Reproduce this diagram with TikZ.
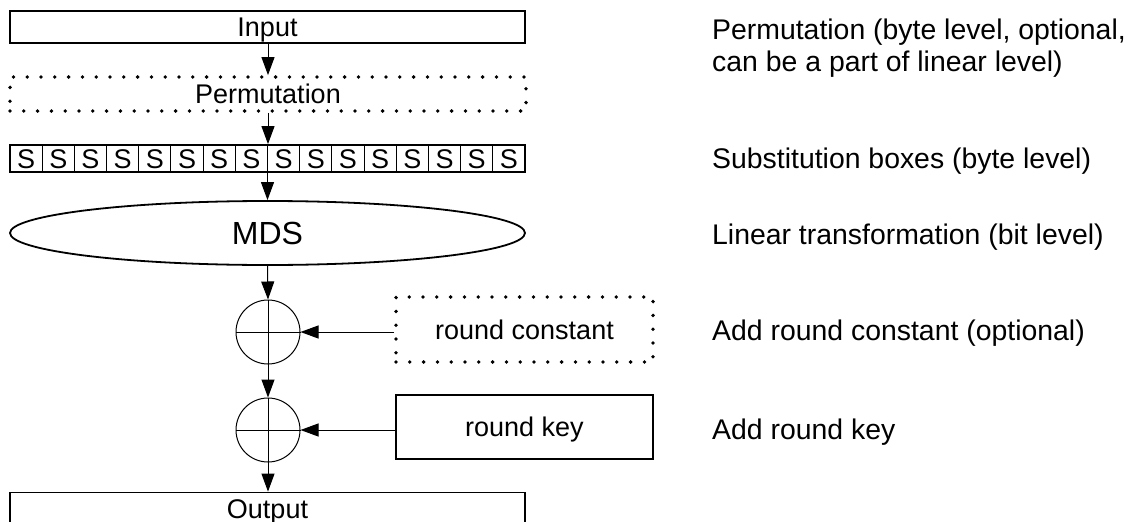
\documentclass[tikz,border=0pt]{standalone}
\usepackage{fontspec}
\setmainfont{Liberation Sans}
\usetikzlibrary{shapes.geometric,arrows.meta}
\begin{document}
\begin{tikzpicture}[x=1pt,y=-1pt,
  lbl/.style={font=\fontsize{27}{33}\selectfont},
  note/.style={font=\fontsize{28.4}{32}\selectfont, inner sep=0pt, anchor=base west, align=left},
  box/.style={lbl, draw, line width=1.8pt, inner sep=0pt, text height=19.4pt, text depth=0pt},
  dotbox/.style={lbl, draw, line width=3.8pt, line cap=round, dash pattern=on 0pt off 13.8pt, inner sep=0pt, text height=19.4pt, text depth=0pt},
  sbox/.style={lbl, draw, line width=1pt, inner sep=0pt, minimum width=32.19pt, minimum height=27pt, text height=19.4pt, text depth=0pt},
  xorop/.style={draw, circle, line width=1pt, minimum size=64pt, inner sep=0pt},
  arr/.style={-{Triangle[length=18pt,width=13pt]}, line width=1pt}
]
\useasboundingbox (0,0) rectangle (1128,522);
\clip (0,0) rectangle (1128,522);

% left column
\node[box, minimum width=515pt, minimum height=32pt] (in) at (267.5,27) {Input};
\node[dotbox, minimum width=516pt, minimum height=34pt] (perm) at (268,94) {Permutation};
\node[draw, line width=1.8pt, inner sep=0pt, minimum width=515pt, minimum height=27pt] (srow) at (267.5,158.5) {};
\foreach \i in {1,...,16}
  \node[sbox] (s\i) at ({10+(\i-0.5)*32.1875},158.5) {S};
\node[draw, ellipse, line width=1.8pt, inner sep=0pt, minimum width=515pt, minimum height=64pt, font=\fontsize{32}{36}\selectfont] (mds) at (267.5,233) {MDS};
\node[xorop] (c1) at (268,332) {};
\node[xorop] (c2) at (268,430) {};
\draw[line width=1pt] (c1.north) -- (c1.south) (c1.west) -- (c1.east);
\draw[line width=1pt] (c2.north) -- (c2.south) (c2.west) -- (c2.east);
\node[dotbox, minimum width=257pt, minimum height=65pt] (rc) at (524.5,329.5) {round constant};
\node[box, minimum width=257pt, minimum height=64pt] (rk) at (524.5,427) {round key};
\node[box, minimum width=515pt, minimum height=32pt] (out) at (267.5,508.5) {Output};

% connectors
\draw[arr] (in.south -| perm.north) -- (perm.north);
\draw[arr] (perm.south) -- (srow.north -| perm.south);
\draw[arr] (srow.south -| mds.north) -- (mds.north);
\draw[arr] (mds.south) -- (c1.north);
\draw[arr] (c1.south) -- (c2.north);
\draw[arr] (c2.south) -- (out.north -| c2.south);
\draw[arr] (rc.west |- c1) -- (c1.east);
\draw[arr] (rk.west |- c2) -- (c2.east);

% notes
\node[note] (n1) at (712,71.5) {Permutation (byte level, optional,\\can be a part of linear level)};
\node[note] (n2) at (712,168.5) {Substitution boxes (byte level)};
\node[note] (n3) at (712,244) {Linear transformation (bit level)};
\node[note] (n4) at (712,340) {Add round constant (optional)};
\node[note] (n5) at (712,439) {Add round key};
\end{tikzpicture}
\end{document}
